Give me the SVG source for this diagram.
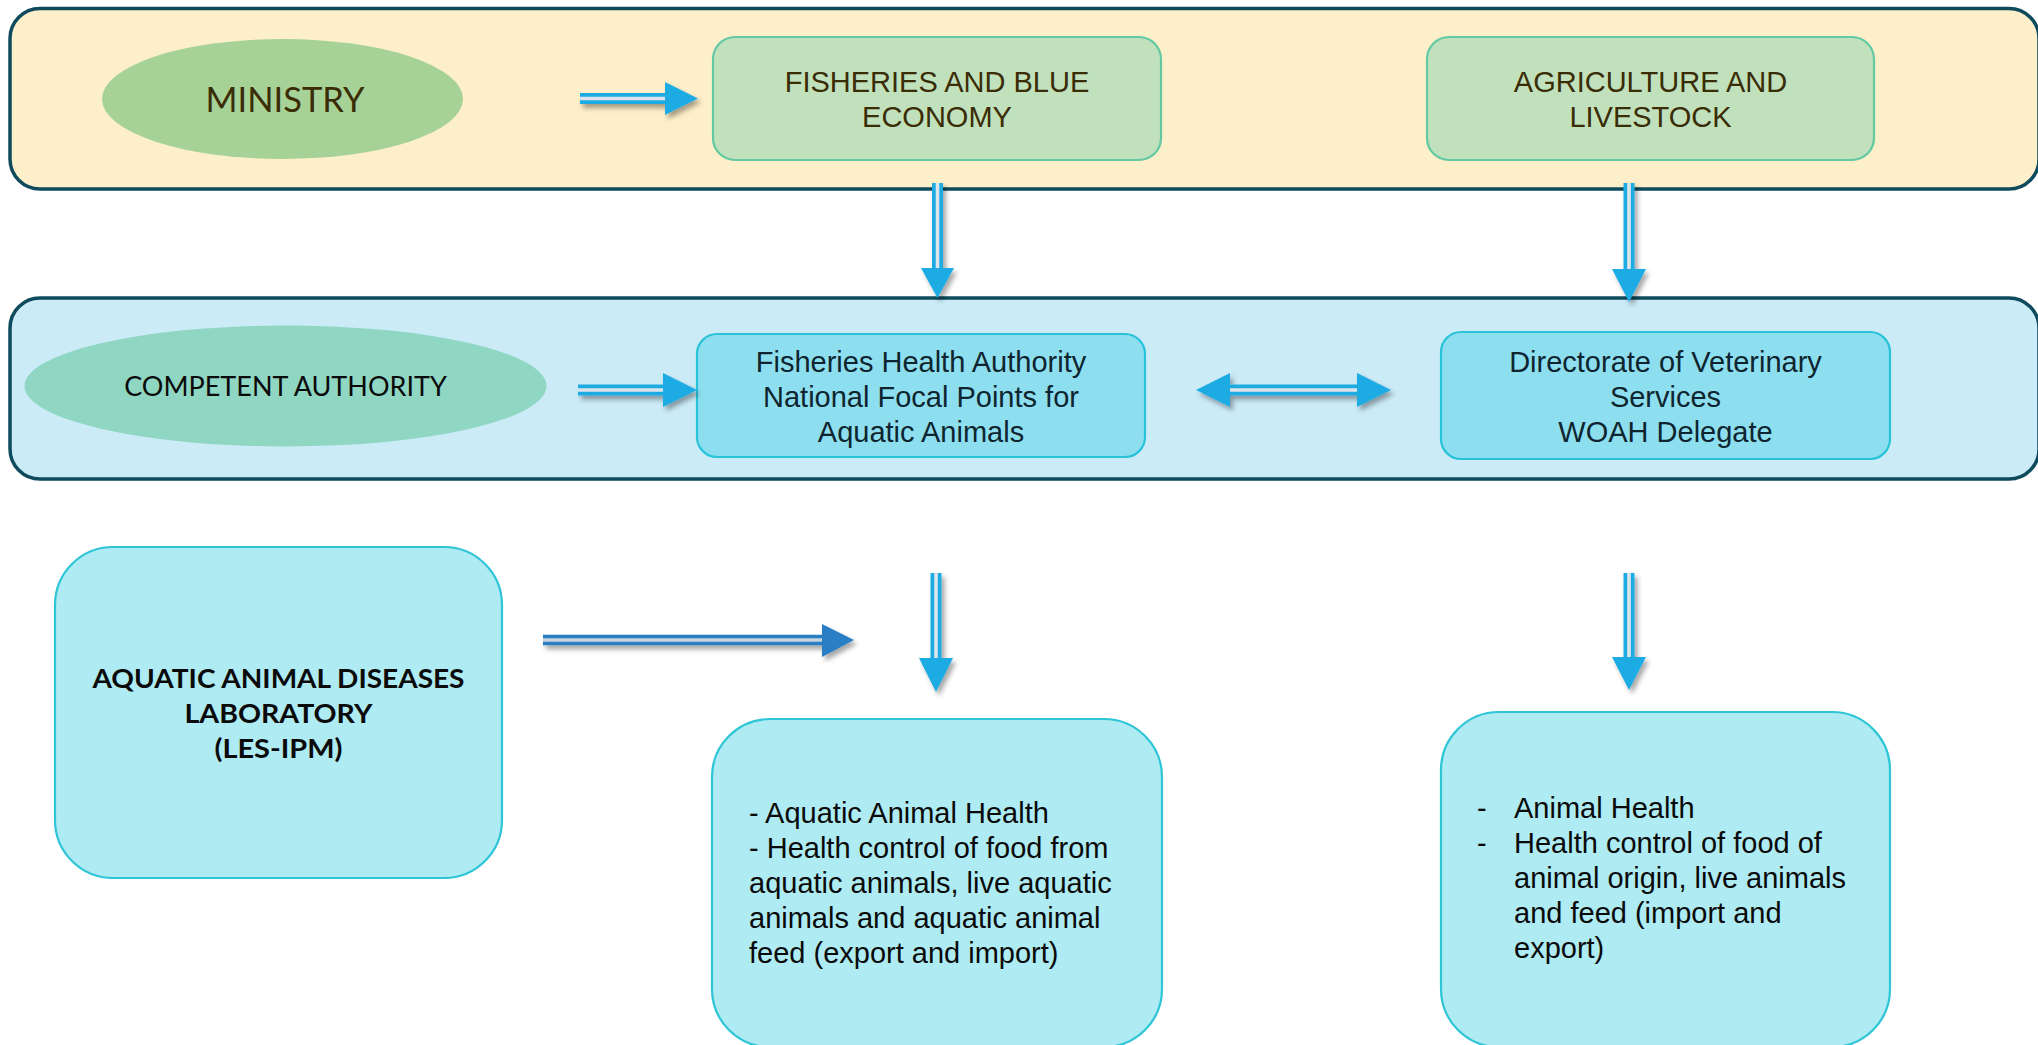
<svg xmlns="http://www.w3.org/2000/svg" width="2038" height="1045" viewBox="0 0 2038 1045">
<defs>
<style>
.panel{stroke:#0f4b5d;stroke-width:3.5}
.p1{fill:#fdefc9}
.p2{fill:#cbebf7}
.gbox{fill:#c1e1bd;stroke:#62c9a3;stroke-width:2.2}
.bbox{fill:#8ddfef;stroke:#29c3d9;stroke-width:2.2}
.lbox{fill:#aeebf2;stroke:#2ec5d6;stroke-width:2.2}
.arial{font-family:"Liberation Sans",Arial,sans-serif;font-size:29px}
.cal{font-family:Lato,"Open Sans",sans-serif}
.brown{fill:#3a2c05}
.dark{fill:#0e2530}
.blk{fill:#0a0a0a}
.mid{text-anchor:middle}
.shaft{stroke:#1eabe3;stroke-width:11;fill:none}
.gap{stroke:#dde5ea;stroke-width:3.6;fill:none}
.head{fill:#1eabe3}
.shaftD{stroke:#2b7fc4;stroke-width:10.5;fill:none}
.gapD{stroke:#c9d3dc;stroke-width:3.4;fill:none}
.headD{fill:#2b7fc4}
</style>
<filter id="sh" x="-20%" y="-40%" width="150%" height="200%">
<feDropShadow dx="3" dy="4" stdDeviation="2.5" flood-color="#000" flood-opacity="0.35"/>
</filter>
</defs>
<rect width="2038" height="1045" fill="#ffffff"/>

<g id="panel-ministry">
<rect class="panel p1" x="10" y="8.5" width="2029" height="180.5" rx="30"/>
</g>
<g id="panel-competent">
<rect class="panel p2" x="10" y="298" width="2029" height="181" rx="30"/>
</g>

<g id="ministry">
<ellipse cx="282.5" cy="99" rx="180.5" ry="60" fill="#a6d297"/>
<text class="cal brown mid" x="285" y="112" font-size="34.5">MINISTRY</text>
</g>

<g id="fisheries-blue-economy">
<rect class="gbox" x="713" y="37" width="448" height="123" rx="22"/>
<text class="arial brown mid" x="937" y="92">FISHERIES AND BLUE</text>
<text class="arial brown mid" x="937" y="127">ECONOMY</text>
</g>

<g id="agriculture-livestock">
<rect class="gbox" x="1427" y="37" width="447" height="123" rx="22"/>
<text class="arial brown mid" x="1650.5" y="92">AGRICULTURE AND</text>
<text class="arial brown mid" x="1650.5" y="127">LIVESTOCK</text>
</g>

<g id="competent-authority">
<ellipse cx="285.5" cy="386" rx="261" ry="60.5" fill="#8fd6c3"/>
<text class="cal blk mid" x="285.5" y="396" font-size="27">COMPETENT AUTHORITY</text>
</g>

<g id="fisheries-health-authority">
<rect class="bbox" x="697" y="334" width="448" height="123" rx="20"/>
<text class="arial dark mid" x="921" y="372">Fisheries Health Authority</text>
<text class="arial dark mid" x="921" y="407">National Focal Points for</text>
<text class="arial dark mid" x="921" y="442">Aquatic Animals</text>
</g>

<g id="directorate-veterinary">
<rect class="bbox" x="1441" y="332" width="449" height="127" rx="20"/>
<text class="arial dark mid" x="1665.5" y="372">Directorate of Veterinary</text>
<text class="arial dark mid" x="1665.5" y="407">Services</text>
<text class="arial dark mid" x="1665.5" y="442">WOAH Delegate</text>
</g>

<g id="lab">
<rect class="lbox" x="55" y="547" width="447" height="331" rx="58"/>
<text class="cal blk mid" x="278.5" y="688" font-size="27" font-weight="bold" textLength="372" lengthAdjust="spacingAndGlyphs">AQUATIC ANIMAL DISEASES</text>
<text class="cal blk mid" x="278.5" y="723" font-size="27" font-weight="bold" textLength="188" lengthAdjust="spacingAndGlyphs">LABORATORY</text>
<text class="cal blk mid" x="278.5" y="758" font-size="27" font-weight="bold" textLength="128" lengthAdjust="spacingAndGlyphs">(LES-IPM)</text>
</g>

<g id="aquatic-health">
<rect class="lbox" x="712" y="719" width="450" height="328" rx="58"/>
<text class="arial blk" x="749" y="823">- Aquatic Animal Health</text>
<text class="arial blk" x="749" y="858">- Health control of food from</text>
<text class="arial blk" x="749" y="893">aquatic animals, live aquatic</text>
<text class="arial blk" x="749" y="928">animals and aquatic animal</text>
<text class="arial blk" x="749" y="963">feed (export and import)</text>
</g>

<g id="animal-health">
<rect class="lbox" x="1441" y="712" width="449" height="335" rx="58"/>
<text class="arial blk" x="1477" y="818">-</text>
<text class="arial blk" x="1514" y="818">Animal Health</text>
<text class="arial blk" x="1477" y="853">-</text>
<text class="arial blk" x="1514" y="853">Health control of food of</text>
<text class="arial blk" x="1514" y="888">animal origin, live animals</text>
<text class="arial blk" x="1514" y="923">and feed (import and</text>
<text class="arial blk" x="1514" y="958">export)</text>
</g>

<g id="connectors">
<g filter="url(#sh)">
<path class="shaft" d="M580 98.5H667"/>
<path class="gap" d="M580 98.5H667"/>
<polygon class="head" points="665,82 698,98.5 665,115"/>
</g>
<g filter="url(#sh)">
<path class="shaft" d="M937.5 183V270"/>
<path class="gap" d="M937.5 183V270"/>
<polygon class="head" points="921,268 954,268 937.5,298"/>
</g>
<g filter="url(#sh)">
<path class="shaft" d="M1629 183V271"/>
<path class="gap" d="M1629 183V271"/>
<polygon class="head" points="1612,269 1646,269 1629,302"/>
</g>
<g filter="url(#sh)">
<path class="shaft" d="M578 390H665"/>
<path class="gap" d="M578 390H665"/>
<polygon class="head" points="663,373 697,390 663,407"/>
</g>
<g filter="url(#sh)">
<path class="shaft" d="M1228 390H1359"/>
<path class="gap" d="M1228 390H1359"/>
<polygon class="head" points="1230,373 1196,390 1230,407"/>
<polygon class="head" points="1357,373 1391,390 1357,407"/>
</g>
<g filter="url(#sh)">
<path class="shaftD" d="M543 640H824"/>
<path class="gapD" d="M543 640H824"/>
<polygon class="headD" points="822,624 854,640 822,657"/>
</g>
<g filter="url(#sh)">
<path class="shaft" d="M936 573V660"/>
<path class="gap" d="M936 573V660"/>
<polygon class="head" points="919,658 953,658 936,692"/>
</g>
<g filter="url(#sh)">
<path class="shaft" d="M1629 573V659"/>
<path class="gap" d="M1629 573V659"/>
<polygon class="head" points="1612,657 1646,657 1629,690"/>
</g>
</g>
</svg>
